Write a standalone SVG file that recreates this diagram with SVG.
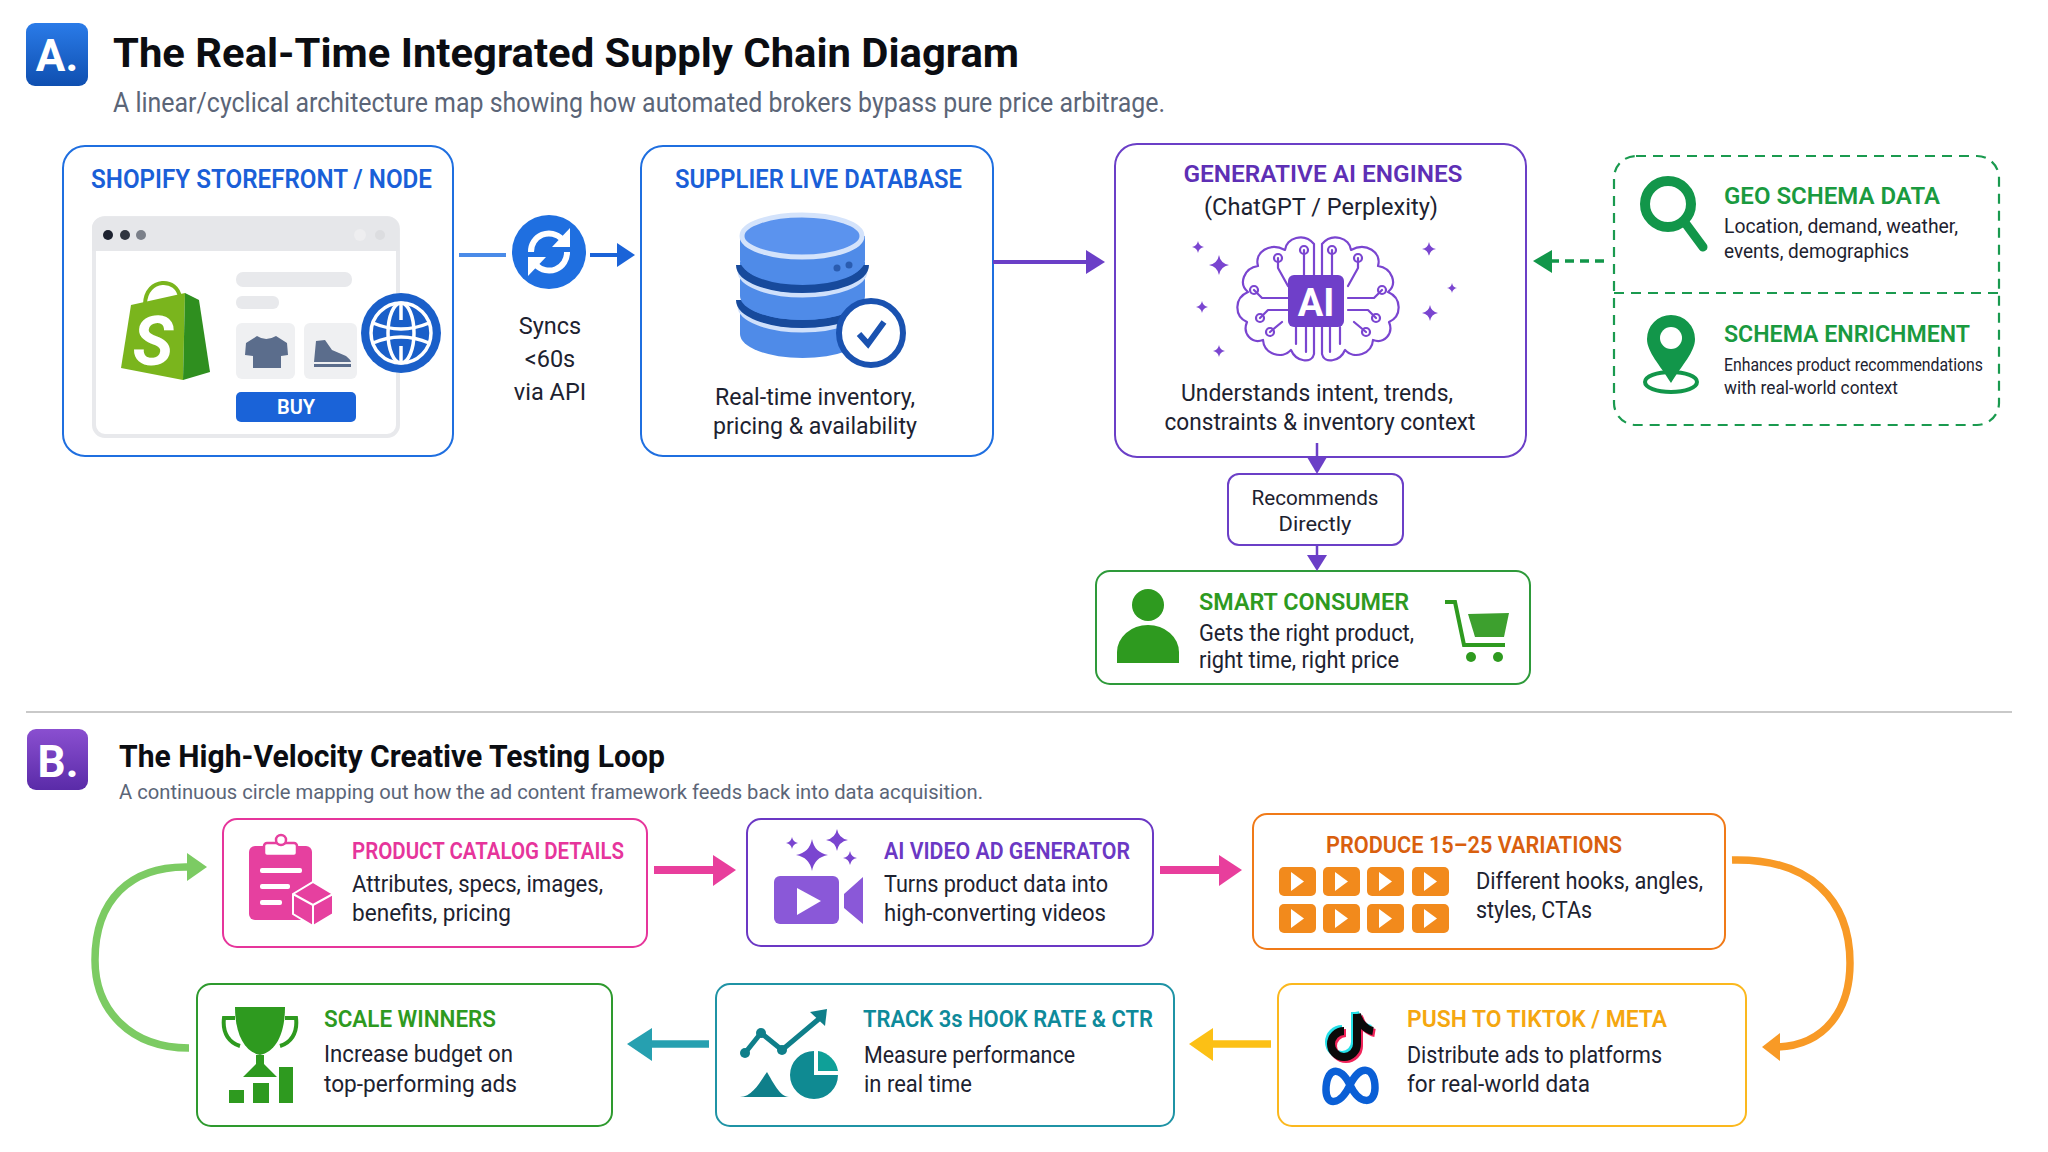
<svg xmlns="http://www.w3.org/2000/svg" xmlns:xlink="http://www.w3.org/1999/xlink" width="2048" height="1152" viewBox="0 0 2048 1152">
<style>
text{font-family:Roboto,"Liberation Sans",sans-serif;fill:#1d2230}
.h1{font-size:40px;font-weight:700;fill:#0b0d12}
.h2{font-size:31px;font-weight:700;fill:#0b0d12}
.sub{fill:#5b6577}
.cap{font-size:25px;font-weight:600}
.cap2{font-size:24px;font-weight:600}
.t{font-size:23.500px}
.t2{font-size:23px}
.badge{font-size:44px;font-weight:700;fill:#fff;text-anchor:middle}
.m{text-anchor:middle}
.box{fill:#fff;stroke-width:2}
.blue{fill:#1a5fd8}.purple{fill:#5e2fb5}.green{fill:#1a9a3f}.lime{fill:#2e9a1f}
.pink{fill:#e6359b}.vio{fill:#6b38c4}.org{fill:#d95f0e}.yel{fill:#f5a70f}.teal{fill:#0e8a9a}
.tile{fill:#f28a1c}.play{fill:#fff}
</style>
<defs>
<linearGradient id="gb" x1="0" y1="0" x2="0" y2="1"><stop offset="0" stop-color="#2a7be8"/><stop offset="1" stop-color="#0f4fb0"/></linearGradient>
<linearGradient id="gp" x1="0" y1="0" x2="0" y2="1"><stop offset="0" stop-color="#8a4fd0"/><stop offset="1" stop-color="#5a2ba8"/></linearGradient>
<path id="spark" d="M0,-10 Q1.5,-1.5 10,0 Q1.5,1.5 0,10 Q-1.5,1.5 -10,0 Q-1.5,-1.5 0,-10Z"/>
<g id="tile"><rect class="tile" x="0" y="0" width="37" height="29" rx="5"/><path class="play" d="M12,5 L25,14.500 L12,24Z"/></g>
<g id="lobe" fill="none" stroke="#7a45d0" stroke-width="2.200" stroke-linecap="round" stroke-linejoin="round">
<path d="M1314,244 C1304,232 1286,238 1285,250 C1270,242 1254,252 1258,266 C1244,268 1238,284 1248,292 C1234,298 1234,316 1247,322 C1242,334 1252,344 1263,340 C1264,354 1282,360 1291,350 C1296,362 1312,364 1314,354 Z"/>
<path d="M1304,275 V250 M1288,286 L1278,268 V258 M1288,298 H1262 L1254,290 M1288,310 H1268 L1260,318 M1296,327 V344 M1306,327 V352 M1282,322 L1270,332"/>
<circle cx="1304" cy="250" r="4"/><circle cx="1278" cy="258" r="4"/><circle cx="1254" cy="290" r="4"/><circle cx="1260" cy="318" r="4"/><circle cx="1270" cy="332" r="4"/>
</g>
</defs>
<rect width="2048" height="1152" fill="#fff"/>

<g id="header-a">
<rect x="26" y="23" width="62" height="63" rx="9" fill="url(#gb)"/>
<text class="badge" x="57" y="71">A.</text>
<text class="h1" x="113" y="67" textLength="906" lengthAdjust="spacingAndGlyphs">The Real-Time Integrated Supply Chain Diagram</text>
<text class="sub" x="113" y="112" font-size="27" textLength="1052" lengthAdjust="spacingAndGlyphs">A linear/cyclical architecture map showing how automated brokers bypass pure price arbitrage.</text>
</g>

<g id="shopify-node">
<rect class="box" x="63" y="146" width="390" height="310" rx="22" stroke="#1f6fe0"/>
<text class="cap blue" x="91" y="188" textLength="341" lengthAdjust="spacingAndGlyphs">SHOPIFY STOREFRONT / NODE</text>
<rect x="94" y="218" width="304" height="218" rx="11" fill="#fff" stroke="#e8e9ec" stroke-width="4"/>
<path d="M92,251 V228 A11,11 0 0 1 103,217 H388 A11,11 0 0 1 399,228 V251Z" fill="#e6e7ea"/>
<circle cx="108" cy="235" r="5" fill="#1d2230"/><circle cx="125" cy="235" r="5" fill="#30353f"/><circle cx="141" cy="235" r="5" fill="#7b808a"/>
<circle cx="360" cy="235" r="6" fill="#eeeef0"/><circle cx="380" cy="235" r="5" fill="#dcdde0"/>
<rect x="236" y="272" width="116" height="15" rx="7" fill="#e8e9ec"/>
<rect x="236" y="296" width="43" height="13" rx="6" fill="#e8e9ec"/>
<rect x="236" y="323" width="59" height="56" rx="6" fill="#eff0f2"/>
<rect x="304" y="323" width="53" height="56" rx="6" fill="#eff0f2"/>
<path d="M257,336 L246,343 L245,355 L253,356 L253,368 L281,368 L281,356 L288,355 L287,343 L276,336 Q266,342 257,336Z" fill="#5b6d8c"/>
<path d="M316,341 L325,340 L332,350 L346,356 Q351,360 351,362 H314Z M314,364 H351 V367 H314Z" fill="#5b6d8c"/>
<path d="M145,304 C146,277 178,277 180,298" fill="none" stroke="#7ab51d" stroke-width="4"/>
<path d="M131,305 L185,293 L183,380 L121,368Z" fill="#7ab51d"/>
<path d="M185,293 L199,300 L210,372 L183,380Z" fill="#2f8f1f"/>
<text x="153" y="365" font-size="68" font-weight="700" font-style="italic" text-anchor="middle" style="fill:#fff">S</text>
<rect x="236" y="392" width="120" height="30" rx="5" fill="#1a63d8"/>
<text x="296" y="414" font-size="20" font-weight="600" text-anchor="middle" style="fill:#fff">BUY</text>
<circle cx="401" cy="333" r="40" fill="#1a5fc9"/>
<g fill="none" stroke="#fff" stroke-width="3.500"><circle cx="401" cy="333" r="30"/><ellipse cx="401" cy="333" rx="13" ry="30"/><path d="M373,323 Q401,335 429,323 M373,343 Q401,331 429,343 M401,303 V320 M401,346 V363"/></g>
</g>

<g id="sync-node">
<circle cx="549" cy="252" r="37" fill="#1f6fe0"/>
<g fill="none" stroke="#fff" stroke-width="6"><path d="M531,252 A18,18 0 0 1 562,239"/><path d="M567,252 A18,18 0 0 1 536,265"/></g>
<path d="M570,228 V247 H552Z M528,276 V257 H546Z" fill="#fff"/>
<text class="t m" x="550" y="334">Syncs</text><text class="t m" x="550" y="367">&lt;60s</text><text class="t m" x="550" y="400">via API</text>
</g>

<g id="supplier-database">
<rect class="box" x="641" y="146" width="352" height="310" rx="22" stroke="#1f6fe0"/>
<text class="cap blue" x="675" y="188" textLength="287" lengthAdjust="spacingAndGlyphs">SUPPLIER LIVE DATABASE</text>
<path d="M740,304 V334 A62.500,24 0 0 0 865,334 V304Z" fill="#4f8be8"/>
<path d="M740,306 A62.500,24 0 0 0 865,306" fill="none" stroke="#cfe0fb" stroke-width="5"/>
<path d="M740,300 A62.500,24 0 0 0 865,300" fill="none" stroke="#174a9c" stroke-width="8"/>
<path d="M740,262 V296 A62.500,24 0 0 0 865,296 V262Z" fill="#4f8be8"/>
<path d="M740,271 A62.500,24 0 0 0 865,271" fill="none" stroke="#cfe0fb" stroke-width="5"/>
<path d="M740,265 A62.500,24 0 0 0 865,265" fill="none" stroke="#174a9c" stroke-width="8"/>
<path d="M740,236 V260 A62.500,24 0 0 0 865,260 V236Z" fill="#4f8be8"/>
<ellipse cx="802" cy="236" rx="60" ry="21" fill="#5b93ee" stroke="#d4e3fb" stroke-width="5"/>
<circle cx="837" cy="268" r="3.500" fill="#2a5cb0"/><circle cx="849" cy="265" r="3.500" fill="#2a5cb0"/>
<circle cx="871" cy="333" r="32" fill="#fff" stroke="#1a52b0" stroke-width="6"/>
<path d="M859,334 L868,344 L884,322" fill="none" stroke="#1a52b0" stroke-width="6"/>
<text class="t m" x="815" y="405" textLength="200" lengthAdjust="spacingAndGlyphs">Real-time inventory,</text><text class="t m" x="815" y="434" textLength="204" lengthAdjust="spacingAndGlyphs">pricing &amp; availability</text>
</g>

<g id="ai-engines">
<rect class="box" x="1115" y="144" width="411" height="313" rx="22" stroke="#6b3fc7"/>
<text class="cap2 purple m" x="1323" y="182" textLength="279" lengthAdjust="spacingAndGlyphs">GENERATIVE AI ENGINES</text>
<text class="t m" x="1321" y="215" textLength="234" lengthAdjust="spacingAndGlyphs">(ChatGPT / Perplexity)</text>
<use href="#lobe"/><use href="#lobe" transform="matrix(-1 0 0 1 2636 0)"/>
<rect x="1288" y="275" width="56" height="52" rx="6" fill="#6f3fc9"/>
<text x="1316" y="316" font-size="38" font-weight="700" text-anchor="middle" style="fill:#fff">AI</text>
<g fill="#7a45d0"><use href="#spark" transform="translate(1198,247) scale(.6)"/><use href="#spark" transform="translate(1219,265)"/><use href="#spark" transform="translate(1202,307) scale(.6)"/><use href="#spark" transform="translate(1219,351) scale(.6)"/><use href="#spark" transform="translate(1429,249) scale(.7)"/><use href="#spark" transform="translate(1452,288) scale(.5)"/><use href="#spark" transform="translate(1430,313) scale(.8)"/></g>
<text class="t m" x="1317" y="401" textLength="272" lengthAdjust="spacingAndGlyphs">Understands intent, trends,</text><text class="t m" x="1320" y="430" textLength="311" lengthAdjust="spacingAndGlyphs">constraints &amp; inventory context</text>
</g>

<g id="schema-data">
<rect x="1614" y="156" width="385" height="269" rx="22" fill="#fff" stroke="#1a9a4f" stroke-width="2.200" stroke-dasharray="10 7"/>
<path d="M1614,293 H1999" stroke="#1a9a4f" stroke-width="2.200" stroke-dasharray="10 7"/>
<circle cx="1668" cy="204" r="23" fill="none" stroke="#12964a" stroke-width="10"/>
<path d="M1686,224 L1703,247" stroke="#12964a" stroke-width="9" stroke-linecap="round"/>
<text class="cap2 green" x="1724" y="204" textLength="216" lengthAdjust="spacingAndGlyphs">GEO SCHEMA DATA</text>
<text x="1724" y="233" font-size="19.500" textLength="234" lengthAdjust="spacingAndGlyphs">Location, demand, weather,</text>
<text x="1724" y="258" font-size="19.500" textLength="185" lengthAdjust="spacingAndGlyphs">events, demographics</text>
<ellipse cx="1671" cy="382" rx="26" ry="10" fill="none" stroke="#12964a" stroke-width="4"/>
<path d="M1671,383 C1660,365 1647,352 1647,339 A24,24 0 0 1 1695,339 C1695,352 1682,365 1671,383Z" fill="#12964a"/>
<circle cx="1671" cy="338" r="11" fill="#fff"/>
<text class="cap2 green" x="1724" y="342" textLength="246" lengthAdjust="spacingAndGlyphs">SCHEMA ENRICHMENT</text>
<text x="1724" y="371" font-size="19" textLength="259" lengthAdjust="spacingAndGlyphs">Enhances product recommendations</text>
<text x="1724" y="394" font-size="19" textLength="174" lengthAdjust="spacingAndGlyphs">with real-world context</text>
</g>

<g id="recommends">
<rect class="box" x="1228" y="474" width="175" height="71" rx="11" stroke="#6b3fc7"/>
<text class="m" x="1315" y="505" font-size="21" textLength="127" lengthAdjust="spacingAndGlyphs">Recommends</text>
<text class="m" x="1315" y="531" font-size="21" textLength="73" lengthAdjust="spacingAndGlyphs">Directly</text>
</g>

<g id="smart-consumer">
<rect class="box" x="1096" y="571" width="434" height="113" rx="14" stroke="#2e9a3a"/>
<circle cx="1148" cy="605" r="16" fill="#2e9a1f"/>
<path d="M1117,663 V652 A31,27 0 0 1 1179,652 V663Z" fill="#2e9a1f"/>
<text class="cap2 lime" x="1199" y="610" textLength="210" lengthAdjust="spacingAndGlyphs">SMART CONSUMER</text>
<text class="t2" x="1199" y="641" textLength="215" lengthAdjust="spacingAndGlyphs">Gets the right product,</text>
<text class="t2" x="1199" y="668" textLength="200" lengthAdjust="spacingAndGlyphs">right time, right price</text>
<path d="M1468,614 L1509,613 L1504,637 L1475,637Z" fill="#3da02e"/>
<path d="M1445,602 H1455 L1464,645 H1505" fill="none" stroke="#2e9a1f" stroke-width="4"/>
<circle cx="1471" cy="657" r="5" fill="#2e9a1f"/><circle cx="1498" cy="657" r="5" fill="#2e9a1f"/>
</g>

<path id="divider" d="M26,712 H2012" stroke="#c9c9c9" stroke-width="2"/>

<g id="header-b">
<rect x="27" y="729" width="61" height="61" rx="9" fill="url(#gp)"/>
<text class="badge" x="58" y="777">B.</text>
<text class="h2" x="119" y="767" textLength="546" lengthAdjust="spacingAndGlyphs">The High-Velocity Creative Testing Loop</text>
<text class="sub" x="119" y="799" font-size="20" textLength="864" lengthAdjust="spacingAndGlyphs">A continuous circle mapping out how the ad content framework feeds back into data acquisition.</text>
</g>

<g id="product-catalog">
<rect class="box" x="223" y="819" width="424" height="128" rx="14" stroke="#e6359b"/>
<rect x="249" y="846" width="63" height="74" rx="6" fill="#e6409f"/>
<rect x="264" y="843" width="33" height="13" rx="3" fill="#fff" stroke="#e6409f" stroke-width="2.500"/>
<circle cx="281" cy="840" r="5" fill="#fff" stroke="#e6409f" stroke-width="2.500"/>
<g fill="#fff"><rect x="260" y="868" width="42" height="5" rx="2"/><rect x="260" y="884" width="30" height="5" rx="2"/><rect x="260" y="900" width="22" height="5" rx="2"/></g>
<path d="M313,882 L333,894 V914 L313,926 L293,914 V894Z" fill="#e6409f" stroke="#fff" stroke-width="2"/>
<path d="M293,894 L313,905 L333,894 M313,905 V926" fill="none" stroke="#fff" stroke-width="2"/>
<text class="cap2 pink" x="352" y="859" textLength="272" lengthAdjust="spacingAndGlyphs">PRODUCT CATALOG DETAILS</text>
<text class="t" x="352" y="892" textLength="251" lengthAdjust="spacingAndGlyphs">Attributes, specs, images,</text>
<text class="t" x="352" y="921" textLength="159" lengthAdjust="spacingAndGlyphs">benefits, pricing</text>
</g>

<g id="video-generator">
<rect class="box" x="747" y="819" width="406" height="127" rx="14" stroke="#6b38c4"/>
<g fill="#7a45d0"><use href="#spark" transform="translate(812,855) scale(1.600)"/><use href="#spark" transform="translate(837,840) scale(1.100)"/><use href="#spark" transform="translate(792,843) scale(.6)"/><use href="#spark" transform="translate(850,858) scale(.7)"/></g>
<rect x="774" y="876" width="65" height="48" rx="6" fill="#8a58d8"/>
<path d="M844,894 L863,877 V924 L844,908Z" fill="#8a58d8"/>
<path d="M797,888 L821,901 L797,915Z" fill="#fff"/>
<text class="cap2 vio" x="884" y="859" textLength="246" lengthAdjust="spacingAndGlyphs">AI VIDEO AD GENERATOR</text>
<text class="t" x="884" y="892" textLength="224" lengthAdjust="spacingAndGlyphs">Turns product data into</text>
<text class="t" x="884" y="921" textLength="222" lengthAdjust="spacingAndGlyphs">high-converting videos</text>
</g>

<g id="variations">
<rect class="box" x="1253" y="814" width="472" height="135" rx="14" stroke="#f07a18"/>
<text class="cap2 org" x="1326" y="853" textLength="296" lengthAdjust="spacingAndGlyphs">PRODUCE 15–25 VARIATIONS</text>
<use href="#tile" x="1279" y="867"/><use href="#tile" x="1323" y="867"/><use href="#tile" x="1367" y="867"/><use href="#tile" x="1412" y="867"/>
<use href="#tile" x="1279" y="904"/><use href="#tile" x="1323" y="904"/><use href="#tile" x="1367" y="904"/><use href="#tile" x="1412" y="904"/>
<text class="t2" x="1476" y="889" textLength="227" lengthAdjust="spacingAndGlyphs">Different hooks, angles,</text>
<text class="t2" x="1476" y="918" textLength="116" lengthAdjust="spacingAndGlyphs">styles, CTAs</text>
</g>

<g id="push-tiktok">
<rect class="box" x="1278" y="984" width="468" height="142" rx="14" stroke="#fbb81e"/>
<g fill="none" stroke-width="8"><path d="M1355,1012 V1042 A13,13 0 1 1 1342,1029 M1355,1012 C1357,1022 1365,1028 1371,1029" stroke="#25e0e8"/><path d="M1359,1016 V1046 A13,13 0 1 1 1346,1033 M1359,1016 C1361,1026 1369,1032 1375,1033" stroke="#f0245a"/><path d="M1357,1014 V1044 A13,13 0 1 1 1344,1031 M1357,1014 C1359,1024 1367,1030 1373,1031" stroke="#0a0a0a"/></g>
<path d="M1326,1090 C1326,1068 1340,1064 1350,1085 C1360,1106 1375,1104 1375,1088 C1375,1066 1360,1064 1350,1085 C1340,1106 1326,1106 1326,1090Z" fill="none" stroke="#0a5fd6" stroke-width="7.500"/>
<text class="cap2 yel" x="1407" y="1027" textLength="260" lengthAdjust="spacingAndGlyphs">PUSH TO TIKTOK / META</text>
<text class="t" x="1407" y="1063" textLength="255" lengthAdjust="spacingAndGlyphs">Distribute ads to platforms</text>
<text class="t" x="1407" y="1092" textLength="183" lengthAdjust="spacingAndGlyphs">for real-world data</text>
</g>

<g id="track-rate">
<rect class="box" x="716" y="984" width="458" height="142" rx="14" stroke="#1f93a5"/>
<path d="M745,1053 L761,1033 L782,1050 L820,1018" fill="none" stroke="#0f7f8a" stroke-width="5"/>
<path d="M827,1009 L810,1012 L825,1026Z" fill="#0f7f8a"/>
<circle cx="745" cy="1053" r="5" fill="#0f7f8a"/><circle cx="761" cy="1033" r="5" fill="#0f7f8a"/><circle cx="782" cy="1050" r="5" fill="#0f7f8a"/>
<path d="M740,1097 C752,1097 760,1082 767,1072 C773,1082 780,1097 789,1097Z" fill="#0f7f8a"/>
<path d="M814,1051 A24,24 0 1 0 838,1075 H814Z" fill="#0f8a92"/><path d="M818,1051 A24,24 0 0 1 838,1071 H818Z" fill="#0fa098"/>
<text class="cap2 teal" x="863" y="1027" textLength="290" lengthAdjust="spacingAndGlyphs">TRACK 3s HOOK RATE &amp; CTR</text>
<text class="t" x="864" y="1063" textLength="211" lengthAdjust="spacingAndGlyphs">Measure performance</text>
<text class="t" x="864" y="1092" textLength="108" lengthAdjust="spacingAndGlyphs">in real time</text>
</g>

<g id="scale-winners">
<rect class="box" x="197" y="984" width="415" height="142" rx="14" stroke="#2e9a2e"/>
<path d="M235,1007 H285 C285,1035 275,1052 260,1055 C245,1052 235,1035 235,1007Z" fill="#2e9a1f"/>
<path d="M235,1018 H224 C222,1034 230,1043 240,1046 M285,1018 H296 C298,1034 290,1043 280,1046" fill="none" stroke="#2e9a1f" stroke-width="4"/>
<path d="M256,1055 H264 V1064 L277,1077 H243 L256,1064Z" fill="#2e9a1f"/>
<g fill="#2e9a1f"><rect x="229" y="1090" width="15" height="13"/><rect x="253" y="1083" width="16" height="20"/><rect x="279" y="1067" width="14" height="36"/></g>
<text class="cap2 lime" x="324" y="1027" textLength="172" lengthAdjust="spacingAndGlyphs">SCALE WINNERS</text>
<text class="t" x="324" y="1062" textLength="189" lengthAdjust="spacingAndGlyphs">Increase budget on</text>
<text class="t" x="324" y="1092" textLength="193" lengthAdjust="spacingAndGlyphs">top-performing ads</text>
</g>

<g id="connectors" fill="none">
<path d="M459,255 H506" stroke="#4a8be8" stroke-width="4"/>
<path d="M590,255 H618" stroke="#1a63d8" stroke-width="4"/><path d="M617,243 L635,255 L617,267Z" fill="#1a63d8"/>
<path d="M993,262 H1087" stroke="#6b3fc7" stroke-width="4"/><path d="M1086,250 L1105,262 L1086,274Z" fill="#6b3fc7"/>
<path d="M1604,261 H1552" stroke="#12964a" stroke-width="3.500" stroke-dasharray="9 6"/><path d="M1552,250 L1533,261 L1552,273Z" fill="#12964a"/>
<path d="M1317,443 V458" stroke="#6b3fc7" stroke-width="2.500"/><path d="M1307,457 H1327 L1317,474Z" fill="#6b3fc7"/>
<path d="M1317,545 V556" stroke="#6b3fc7" stroke-width="2.500"/><path d="M1307,555 H1327 L1317,571Z" fill="#6b3fc7"/>
<path d="M654,870 H714" stroke="#e83e9c" stroke-width="8"/><path d="M713,855 L736,870 L713,886Z" fill="#e83e9c"/>
<path d="M1160,870 H1220" stroke="#e83e9c" stroke-width="8"/><path d="M1219,855 L1242,870 L1219,886Z" fill="#e83e9c"/>
<path d="M1732,860 C1810,858 1850,900 1850,963 C1850,1010 1825,1045 1778,1047" stroke="#f89a26" stroke-width="7.500"/><path d="M1780,1033 L1762,1047 L1780,1061Z" fill="#f89a26"/>
<path d="M1271,1044 H1212" stroke="#fcc015" stroke-width="7.500"/><path d="M1213,1028 L1189,1044 L1213,1061Z" fill="#fcc015"/>
<path d="M709,1044 H651" stroke="#26a0b0" stroke-width="7.500"/><path d="M652,1028 L627,1044 L652,1061Z" fill="#26a0b0"/>
<path d="M189,1048 C130,1048 95,1010 95,960 C95,900 130,866 188,867" stroke="#7ccb63" stroke-width="7.500"/><path d="M187,853 L207,867 L187,881Z" fill="#7ccb63"/>
</g>
</svg>
